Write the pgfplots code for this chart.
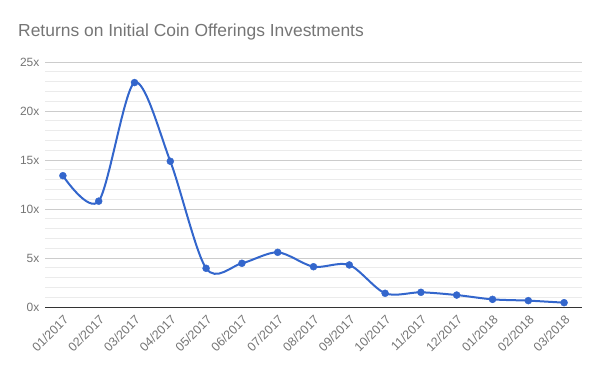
\documentclass[border=0pt]{standalone}
\usepackage{pgfplots}
\pgfplotsset{compat=1.18}
\usepackage{fontspec}
\setmainfont{Liberation Sans}
\definecolor{titlegray}{HTML}{757575}
\definecolor{labelgray}{HTML}{757575}
\definecolor{gridmajor}{HTML}{CCCCCC}
\definecolor{gridminor}{HTML}{EBEBEB}
\definecolor{axisdark}{HTML}{333333}
\definecolor{lineblue}{HTML}{3366CC}
\begin{document}
\begin{tikzpicture}[x=1bp,y=1bp]
\useasboundingbox (0,0) rectangle (600,371);
\node[anchor=base west, inner sep=0pt, text=titlegray, font=\fontsize{17.5}{20}\selectfont] at (18,335) {Returns on Initial Coin Offerings Investments};
\begin{axis}[
  at={(45bp,64bp)}, anchor=south west,
  scale only axis, width=537bp, height=245bp,
  xmin=-0.5, xmax=14.5, ymin=0, ymax=25,
  axis lines=left, axis line style={-},
  x axis line style={axisdark, line width=1bp},
  y axis line style={draw=none},
  tick style={draw=none},
  ytick={0,5,10,15,20,25},
  minor y tick num=4,
  ymajorgrids, yminorgrids,
  major grid style={gridmajor, line width=0.8bp},
  minor grid style={gridminor, line width=0.8bp},
  /pgf/number format/assume math mode=true,
  yticklabel={\pgfmathprintnumber{\tick}x},
  yticklabel style={text=labelgray, font=\fontsize{12}{14}\selectfont},
  xtick={0,...,14},
  xticklabels={01/2017,02/2017,03/2017,04/2017,05/2017,06/2017,07/2017,08/2017,09/2017,10/2017,11/2017,12/2017,01/2018,02/2018,03/2018},
  xticklabel style={text=labelgray, font=\fontsize{12.5}{14}\selectfont, rotate=45, anchor=north east},
  clip=false,
]
\addplot[color=lineblue, line width=2bp, smooth, mark=*, mark size=3.5bp, mark options={solid, fill=lineblue, draw=lineblue, line width=0.4bp}] coordinates {
(0,13.4) (1,10.8) (2,22.9) (3,14.87) (4,3.95) (5,4.46) (6,5.58) (7,4.11) (8,4.29) (9,1.4) (10,1.5) (11,1.22) (12,0.78) (13,0.65) (14,0.44)
};
\end{axis}
\end{tikzpicture}
\end{document}
